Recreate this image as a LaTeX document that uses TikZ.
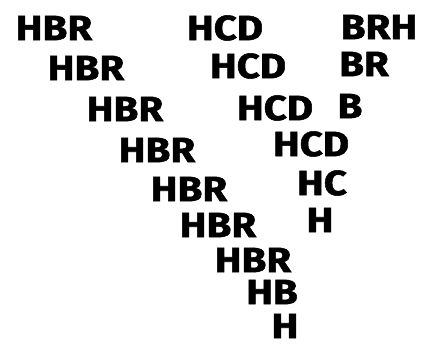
\documentclass[tikz,border=0pt]{standalone}
\usepackage{fontspec}
\setmainfont{Fira Sans}[FakeStretch=1.15,BoldFeatures={FakeBold=1.5}]
\usepackage{tikz}
\usetikzlibrary{positioning}

\begin{document}
\begin{tikzpicture}[x=1pt,y=-1pt]
  \tikzstyle{seq}=[inner sep=0pt,anchor=center,
    font=\fontsize{35}{35}\bfseries\selectfont]
  \useasboundingbox (0,0) rectangle (427,347);
  % left branch
  \node[seq] (hbr1) at (54,28) {HBR};
  \node[seq] (hbr2) at (86,68) {HBR};
  \node[seq] (hbr3) at (125,109) {HBR};
  \node[seq] (hbr4) at (157,150) {HBR};
  \node[seq] (hbr5) at (189,189) {HBR};
  \node[seq] (hbr6) at (218,225) {HBR};
  \node[seq] (hbr7) at (253,260) {HBR};
  \node[seq] (hb) at (272,292) {HB};
  \node[seq] (h1) at (285,326) {H};
  % middle branch
  \node[seq] (hcd1) at (225,28) {HCD};
  \node[seq] (hcd2) at (248,66) {HCD};
  \node[seq] (hcd3) at (275,108) {HCD};
  \node[seq] (hcd4) at (311,144) {HCD};
  \node[seq] (hc) at (322,183) {HC};
  \node[seq] (h2) at (320,220) {H};
  % right branch
  \node[seq] (brh) at (379,27) {BRH};
  \node[seq] (br) at (364,64) {BR};
  \node[seq] (b) at (350,106) {B};
\end{tikzpicture}
\end{document}
